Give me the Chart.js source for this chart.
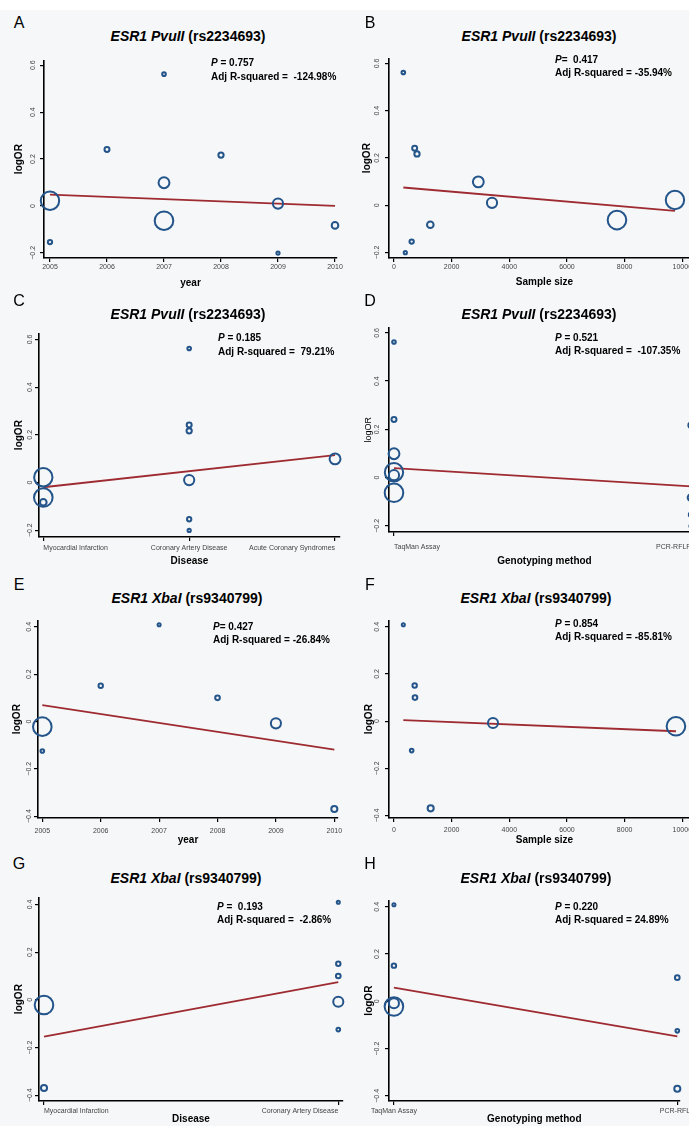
<!DOCTYPE html>
<html>
<head>
<meta charset="utf-8">
<script src="https://cdn.jsdelivr.net/npm/chart.js@4.4.0/dist/chart.umd.min.js"></script>
<style>
  html, body { margin: 0; padding: 0; }
  body { width: 689px; height: 1126px; overflow: hidden; position: relative; background: #fff;
         font-family: "Liberation Sans", Arial, sans-serif; }
  #sheet { position: absolute; left: 0; top: 10px; width: 689px; height: 1116px; background: #f6f7f8; }
  canvas { position: absolute; }
  .txt { position: absolute; line-height: 1; white-space: pre; color: #000; }
  .letter { font-size: 16px; transform: translate(-50%, -50%); }
  .title { font-size: 14px; font-weight: bold; transform: translate(-50%, -50%); }
  .note { font-size: 10px; font-weight: bold; transform: translateY(-50%); }
</style>
</head>
<body>
<div id="sheet"></div>
<script>
// categories
const MI = 'Myocardial Infarction', CAD = 'Coronary Artery Disease', ACS = 'Acute Coronary Syndromes';
const TAQ = 'TaqMan Assay', PCR = 'PCR-RFLP';
const diseaseCatsPvu = [MI, CAD, ACS];
const diseaseCatsXba = [MI, CAD];
const methodCats = [TAQ, PCR];

// ESR1 PvuII (rs2234693) studies
const pvuYear    = [2005, 2005, 2006, 2007, 2007, 2007, 2008, 2009, 2009, 2010];
const pvuN       = [9745, 613, 717, 324, 2925, 7734, 798, 3400, 393, 1260];
const pvuLogOR   = [0.022, -0.154, 0.241, 0.562, 0.099, -0.063, 0.217, 0.010, -0.201, -0.083];
const pvuWeight  = [29.0, 2.8, 3.4, 2.2, 11.6, 29.7, 3.7, 10.4, 1.9, 5.2];
const pvuDisease = [MI, CAD, CAD, CAD, ACS, MI, CAD, CAD, CAD, MI];
const pvuMethod  = [TAQ, PCR, TAQ, TAQ, TAQ, TAQ, PCR, TAQ, PCR, PCR];

// ESR1 XbaI (rs9340799) studies
const xbaYear    = [2005, 2005, 2006, 2007, 2008, 2009, 2010];
const xbaN       = [9780, 613, 717, 324, 728, 3434, 1272];
const xbaLogOR   = [-0.022, -0.125, 0.151, 0.409, 0.100, -0.008, -0.370];
const xbaWeight  = [54.5, 4.1, 5.3, 3.3, 5.7, 18.8, 8.4];
const xbaDisease = [MI, CAD, CAD, CAD, CAD, CAD, MI];
const xbaMethod  = [TAQ, PCR, TAQ, TAQ, PCR, TAQ, PCR];

// fitted meta-regression line, value at first and last x
const fitPvuYear    = [0.048, 0.000];
const fitPvuSize    = [0.075, -0.024];
const fitPvuDisease = [-0.020, 0.115];
const fitPvuMethod  = [0.039, -0.036];
const fitXbaYear    = [0.069, -0.119];
const fitXbaSize    = [0.004, -0.043];
const fitXbaDisease = [-0.154, 0.074];
const fitXbaMethod  = [0.058, -0.148];

// reported statistics, panels A..H
const pLabels  = [' = 0.757', '=  0.417', ' = 0.185', ' = 0.521', '= 0.427', ' = 0.854', ' =  0.193', ' = 0.220'];
const r2Labels = ['Adj R-squared =  -124.98%', 'Adj R-squared = -35.94%', 'Adj R-squared =  79.21%',
                  'Adj R-squared =  -107.35%', 'Adj R-squared = -26.84%', 'Adj R-squared = -85.81%',
                  'Adj R-squared =  -2.86%', 'Adj R-squared = 24.89%'];

// tick labels
const yTicksPvu = [-0.2, 0, 0.2, 0.4, 0.6];
const yTicksXba = [-0.4, -0.2, 0, 0.2, 0.4];
const yearTicks = [2005, 2006, 2007, 2008, 2009, 2010];
const sizeTicks = [0, 2000, 4000, 6000, 8000, 10000];

const BLUE = '#23548a', RED = '#9e2b31', TICK = '#444';
const YW = 34, XH = 36, PT = 6, PR = 14;
const RMAX = 10.3, BW = 2;

const genes = {
  pvu: { title: '<i>ESR1 PvuII</i> (rs2234693)', y: pvuLogOR, w: pvuWeight, yTicks: yTicksPvu,
         year: pvuYear, size: pvuN, disease: pvuDisease, method: pvuMethod, diseaseCats: diseaseCatsPvu,
         fit: { year: fitPvuYear, size: fitPvuSize, disease: fitPvuDisease, method: fitPvuMethod } },
  xba: { title: '<i>ESR1 XbaI</i> (rs9340799)', y: xbaLogOR, w: xbaWeight, yTicks: yTicksXba,
         year: xbaYear, size: xbaN, disease: xbaDisease, method: xbaMethod, diseaseCats: diseaseCatsXba,
         fit: { year: fitXbaYear, size: fitXbaSize, disease: fitXbaDisease, method: fitXbaMethod } }
};

// layout of each panel (page pixels)
const panels = [
  { letter: 'A', gene: 'pvu', by: 'year', lx: 19, ly: 23, tx: 188, ty: 36, nx: 211, ny: [63, 77],
    ax: 44, ay: 258, top: 55, right: 337, xmin: 2004.895, xmax: 2010.035, ymin: -0.222, ymax: 0.621,
    xtg: 9, xttl: 25, yttl: 25, ytp: 0 },
  { letter: 'B', gene: 'pvu', by: 'size', lx: 370, ly: 23, tx: 539, ty: 36, nx: 555, ny: [60, 73],
    ax: 389, ay: 258, top: 53, right: 700, xmin: -173, xmax: 10614, ymin: -0.2235, ymax: 0.622,
    xtg: 9, xttl: 24, yttl: 22, ytp: 0.7 },
  { letter: 'C', gene: 'pvu', by: 'disease', lx: 19, ly: 301, tx: 188, ty: 314, nx: 218, ny: [338, 352],
    ax: 39, ay: 537, top: 328, right: 340, xmin: -0.0295, xmax: 2.034, ymin: -0.2286, ymax: 0.6258,
    xtg: 11, xttl: 24, yttl: 20, ytp: -1.9 },
  { letter: 'D', gene: 'pvu', by: 'method', lx: 370, ly: 301, tx: 539, ty: 314, nx: 555, ny: [338, 351],
    ax: 389, ay: 532, top: 322, right: 700, xmin: -0.0168, xmax: 1.0303, ymin: -0.2255, ymax: 0.623,
    xtg: 15, xttl: 29, yttl: 20, ytp: 0.7, lightY: true },
  { letter: 'E', gene: 'xba', by: 'year', lx: 19, ly: 585, tx: 187, ty: 598, nx: 213, ny: [627, 640],
    ax: 38, ay: 818, top: 615, right: 338, xmin: 2004.926, xmax: 2010.063, ymin: -0.408, ymax: 0.4276,
    xtg: 12.7, xttl: 22, yttl: 21, ytp: -1.6 },
  { letter: 'F', gene: 'xba', by: 'size', lx: 370, ly: 585, tx: 536, ty: 598, nx: 555, ny: [624, 637],
    ax: 389, ay: 818, top: 615, right: 700, xmin: -173, xmax: 10614, ymin: -0.411, ymax: 0.4277,
    xtg: 11.7, xttl: 22, yttl: 20, ytp: 0.7 },
  { letter: 'G', gene: 'xba', by: 'disease', lx: 19, ly: 864, tx: 186, ty: 878, nx: 217, ny: [907, 920],
    ax: 39, ay: 1101, top: 892, right: 343, xmin: -0.017, xmax: 1.016, ymin: -0.4245, ymax: 0.43,
    xtg: 10.3, xttl: 18, yttl: 20, ytp: -1.7 },
  { letter: 'H', gene: 'xba', by: 'method', lx: 370, ly: 864, tx: 536, ty: 878, nx: 555, ny: [907, 920],
    ax: 389, ay: 1101, top: 895, right: 683, xmin: -0.0174, xmax: 1.008, ymin: -0.4219, ymax: 0.4276,
    xtg: 10.3, xttl: 18, yttl: 20, ytp: 0.7, centerCats: true }
];

const xTitles = { year: 'year', size: 'Sample size', disease: 'Disease', method: 'Genotyping method' };

Chart.defaults.font.family = '"Liberation Sans", Arial, sans-serif';

function fmtY(v) {
  if (v === 0) return '0';
  return (v < 0 ? '\u2212' : '') + Math.abs(v).toFixed(1);
}

function addText(cls, x, y, html) {
  const d = document.createElement('div');
  d.className = 'txt ' + cls;
  d.style.left = x + 'px';
  d.style.top = y + 'px';
  d.innerHTML = html;
  document.body.appendChild(d);
}

panels.forEach((p, k) => {
  const g = genes[p.gene];
  const wMax = Math.max(...g.w);
  let xs, xTicks, xFmt, fitX;
  if (p.by === 'year' || p.by === 'size') {
    xs = g[p.by];
    xTicks = p.by === 'year' ? yearTicks : sizeTicks;
    xFmt = v => String(v);
    fitX = [Math.min(...xs), Math.max(...xs)];
  } else {
    const cats = p.by === 'disease' ? g.diseaseCats : methodCats;
    xs = g[p.by].map(c => cats.indexOf(c));
    xTicks = cats.map((c, i) => i);
    xFmt = v => cats[v];
    fitX = [0, cats.length - 1];
  }
  const fitY = g.fit[p.by];

  const cv = document.createElement('canvas');
  const w = p.right - p.ax + YW + PR, h = p.ay - p.top + PT + XH;
  cv.width = w; cv.height = h;
  cv.style.left = (p.ax - YW) + 'px';
  cv.style.top = (p.top - PT) + 'px';
  cv.style.width = w + 'px'; cv.style.height = h + 'px';
  document.body.appendChild(cv);

  const isCat = p.by === 'disease' || p.by === 'method';

  new Chart(cv, {
    type: 'bubble',
    data: {
      datasets: [
        {
          // bubble area follows the study weight
          data: xs.map((x, i) => ({ x: x, y: g.y[i], r: RMAX * Math.sqrt(g.w[i] / wMax) - BW / 2 })),
          borderColor: BLUE,
          backgroundColor: 'rgba(0,0,0,0)',
          borderWidth: BW,
          clip: false
        },
        {
          type: 'line',
          data: [{ x: fitX[0], y: fitY[0] }, { x: fitX[1], y: fitY[1] }],
          borderColor: RED,
          borderWidth: 1.8,
          pointRadius: 0,
          fill: false,
          clip: false
        }
      ]
    },
    options: {
      responsive: false,
      animation: false,
      events: [],
      layout: { padding: { top: PT, right: PR, left: 0, bottom: 0 } },
      plugins: { legend: { display: false }, tooltip: { enabled: false } },
      scales: {
        x: {
          type: 'linear',
          min: p.xmin, max: p.xmax,
          afterBuildTicks: s => { s.ticks = xTicks.map(v => ({ value: v })); },
          afterFit: s => { s.height = XH; },
          ticks: {
            callback: xFmt, color: TICK, font: { size: 7 }, padding: p.xtg - 8.2,
            maxRotation: 0, minRotation: 0, autoSkip: false,
            align: isCat && !p.centerCats ? 'inner' : 'center'
          },
          grid: { display: true, drawOnChartArea: false, drawTicks: true, tickLength: 4, color: '#000', lineWidth: 1.2 },
          border: { display: true, color: '#000', width: 1.6 },
          title: {
            display: true, text: xTitles[p.by], color: '#000',
            font: { size: 10, weight: 'bold' },
            padding: { top: 0, bottom: XH - 6 - p.xttl }
          }
        },
        y: {
          type: 'linear',
          min: p.ymin, max: p.ymax,
          afterBuildTicks: s => { s.ticks = g.yTicks.map(v => ({ value: v })); },
          afterFit: s => { s.width = YW; },
          ticks: {
            callback: fmtY, color: TICK, font: { size: 7 }, padding: p.ytp,
            minRotation: 90, maxRotation: 90, crossAlign: 'center', autoSkip: false
          },
          grid: { display: true, drawOnChartArea: false, drawTicks: true, tickLength: 4, color: '#000', lineWidth: 1.2 },
          border: { display: true, color: '#000', width: 1.6 },
          title: {
            display: true, text: 'logOR', color: '#000',
            font: p.lightY ? { size: 9, weight: 'normal' } : { size: 10, weight: 'bold' },
            padding: { top: YW - (p.lightY ? 5.4 : 6) - p.yttl, bottom: 0 }
          }
        }
      }
    }
  });

  addText('letter', p.lx, p.ly, p.letter);
  addText('title', p.tx, p.ty, g.title);
  addText('note', p.nx, p.ny[0], '<i>P</i>' + pLabels[k]);
  addText('note', p.nx, p.ny[1], r2Labels[k]);
});
</script>
</body>
</html>
